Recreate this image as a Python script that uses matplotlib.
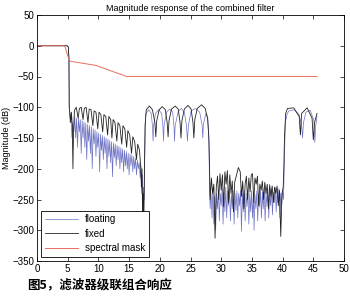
import matplotlib
matplotlib.use("Agg")
import matplotlib.pyplot as plt

# spectral mask
mask_x = [0, 4.5, 5.3, 9.6, 14.6, 45.6]
mask_y = [0, 0, -25, -32, -50, -50]

# fixed (black)
fixed_x = [0, 4.9, 5.1, 5.2, 5.25, 5.35, 5.5, 5.6, 5.75, 5.85, 5.95, 6.1, 6.4, 6.7, 6.9, 7.2, 7.5, 7.7,
           8.0, 8.3, 8.5, 8.8, 9.1, 9.3, 9.6, 9.9, 10.1, 10.4, 10.7, 10.9, 11.2, 11.5, 11.7, 12.0, 12.2,
           12.4, 12.7, 13.0, 13.2, 13.5, 13.8, 14.0, 14.3, 14.6, 14.8, 15.1, 15.4, 15.6, 15.9, 16.2, 16.4,
           16.7, 16.9, 17.0, 17.1, 17.2, 17.3, 17.4, 17.5,
           17.6, 17.8, 18.3, 18.8, 19.2, 19.35, 19.5, 19.9, 20.4, 20.9, 21.2, 21.35, 21.5, 21.9, 22.5,
           23.0, 23.3, 23.45, 23.6, 24.0, 24.6, 25.1, 25.4, 25.55, 25.7, 26.1, 26.8, 27.4, 27.8, 28.0,
           28.1, 28.2, 28.4, 28.6, 28.8, 29.0, 29.2, 29.4, 29.6, 29.8, 30.0, 30.2, 30.4, 30.6, 30.8,
           31.0, 31.2, 31.4, 31.6, 31.8, 32.0, 32.2, 32.5, 32.8, 33.1, 33.3, 33.5, 33.7, 33.9, 34.1,
           34.3, 34.5, 34.7, 34.9, 35.1, 35.3, 35.5, 35.7, 35.9, 36.1, 36.3, 36.5, 36.7, 36.9, 37.1,
           37.3, 37.5, 37.7, 37.9, 38.1, 38.3, 38.5, 38.7, 38.9, 39.1, 39.3, 39.5, 39.7, 39.9, 40.1,
           40.2, 40.3, 40.5, 40.8, 41.8, 42.7, 42.9, 43.1, 44.0, 44.8, 45.0, 45.2, 45.6]
fixed_y = [0, 0, -2, -20, -100, -110, -125, -108, -130, -200, -140, -105, -100, -118, -102, -100, -120, -102,
           -100, -125, -103, -104, -130, -106, -108, -135, -108, -112, -140, -112, -115, -145, -115, -120, -150,
           -120, -125, -155, -125, -130, -160, -130, -135, -165, -138, -145, -175, -148, -155, -185, -160,
           -170, -200, -230, -200, -280, -240, -290, -200,
           -130, -104, -98, -104, -125, -148, -122, -104, -99, -104, -125, -148, -122, -103, -98,
           -103, -125, -150, -122, -103, -97, -103, -125, -150, -120, -102, -96, -102, -120, -150,
           -200, -250, -215, -240, -225, -313, -230, -212, -250, -208, -235, -210, -262, -205, -225,
           -203, -255, -210, -240, -220, -270, -222, -210, -198, -205, -245, -220, -265, -225, -212,
           -250, -215, -238, -210, -208, -255, -215, -225, -212, -260, -225, -235, -220, -250, -222,
           -240, -225, -265, -226, -245, -228, -255, -230, -240, -228, -260, -235, -310, -240, -230,
           -200, -150, -110, -102, -101, -115, -145, -110, -101, -118, -153, -125, -110]

# floating (blue)
float_x = [0, 4.9, 5.1, 5.2, 5.25, 5.4, 5.5, 5.7, 5.8, 6.0, 6.15, 6.3, 6.45, 6.6, 6.75, 6.9, 7.05, 7.2,
           7.35, 7.5, 7.65, 7.8, 7.95, 8.1, 8.25, 8.4, 8.55, 8.7, 8.85, 9.0, 9.15, 9.3, 9.45, 9.6, 9.75,
           9.9, 10.05, 10.2, 10.35, 10.5, 10.65, 10.8, 10.95, 11.1, 11.25, 11.4, 11.55, 11.7, 11.85, 12.0,
           12.15, 12.3, 12.45, 12.6, 12.75, 12.9, 13.05, 13.2, 13.35, 13.5, 13.65, 13.8, 13.95, 14.1, 14.25,
           14.4, 14.55, 14.7, 14.85, 15.0, 15.15, 15.3, 15.45, 15.6, 15.75, 15.9, 16.05, 16.2, 16.35, 16.5,
           16.65, 16.8, 16.95, 17.05, 17.15, 17.25, 17.35, 17.45, 17.55,
           17.65, 17.75, 18.2, 18.6, 18.8, 18.9, 19.0, 19.3, 19.8, 20.3, 20.5, 20.6, 20.7, 21.1, 21.6,
           22.1, 22.3, 22.4, 22.5, 23.0, 23.5, 24.0, 24.35, 24.5, 24.65, 25.1, 25.8, 26.5, 26.9, 27.0,
           27.1, 27.5, 27.8, 28.0, 28.1,
           28.2, 28.35, 28.5, 28.65, 28.8, 28.95, 29.1, 29.25, 29.4, 29.55, 29.7, 29.85, 30.0, 30.15,
           30.3, 30.45, 30.6, 30.75, 30.9, 31.05, 31.2, 31.35, 31.5, 31.65, 31.8, 31.95, 32.1, 32.25,
           32.4, 32.55, 32.7, 32.85, 33.0, 33.15, 33.3, 33.45, 33.6, 33.75, 33.9, 34.05, 34.2, 34.35,
           34.5, 34.65, 34.8, 34.95, 35.1, 35.25, 35.35, 35.5, 35.65, 35.8, 35.95, 36.1, 36.25, 36.4,
           36.55, 36.7, 36.85, 37.0, 37.15, 37.3, 37.45, 37.6, 37.75, 37.9, 38.05, 38.2, 38.35, 38.5,
           38.65, 38.8, 38.95, 39.1, 39.25, 39.4, 39.55, 39.7, 39.85, 40.0, 40.15, 40.3, 40.45,
           40.7, 41.0, 41.9, 42.7, 43.1, 43.25, 43.4, 43.8, 44.5, 45.1, 45.25, 45.4, 45.6]
float_y = [0, 0, -2, -20, -100, -125, -110, -150, -125, -140, -115, -150, -118, -165, -118, -140, -120, -175,
           -122, -150, -124, -165, -126, -185, -128, -155, -130, -175, -132, -200, -135, -160, -137, -180, -140,
           -165, -142, -205, -144, -170, -146, -185, -148, -175, -150, -200, -152, -180, -154, -190,
           -156, -213, -158, -182, -160, -195, -162, -185, -164, -200, -166, -190, -168, -205, -170,
           -195, -172, -200, -175, -210, -176, -195, -178, -205, -180, -200, -183, -210, -186, -200,
           -190, -215, -195, -240, -210, -260, -230, -250, -180,
           -120, -110, -104, -110, -130, -155, -130, -110, -104, -110, -130, -155, -130, -108, -103,
           -108, -130, -155, -130, -107, -102, -108, -130, -155, -130, -106, -102, -108, -130, -150,
           -128, -110, -115, -160, -230,
           -265, -240, -280, -232, -290, -245, -300, -240, -265, -235, -285, -240, -260, -232,
           -290, -238, -270, -230, -280, -236, -260, -232, -285, -240, -265, -235, -290, -240,
           -268, -236, -280, -240, -260, -235, -302, -240, -270, -236, -285, -240, -262, -236,
           -290, -240, -270, -236, -280, -240, -300, -242, -265, -236, -285, -240, -262, -235,
           -280, -238, -265, -232, -285, -238, -262, -232, -280, -236, -260, -232, -275, -238,
           -255, -230, -270, -236, -255, -232, -280, -240, -260, -235, -250, -180, -125,
           -112, -106, -104, -112, -130, -150, -125, -108, -105, -122, -157, -130, -115]

title_text = "Magnitude response of the combined filter"
ylabel_text = "Magnitude (dB)"
caption_text = "图5，滤波器级联组合响应"
legend_labels = ["floating", "fixed", "spectral mask"]
xticks = [0, 5, 10, 15, 20, 25, 30, 35, 40, 45, 50]
yticks = [50, 0, -50, -100, -150, -200, -250, -300, -350]

plt.rcParams['font.family'] = ['Liberation Sans', 'DejaVu Sans']

fig = plt.figure(figsize=(3.5, 2.96), dpi=100)
ax = fig.add_axes([37 / 350, 35 / 296, 307 / 350, 246 / 296])

ax.plot(float_x, float_y, color='#6d72c4', lw=0.5, label=legend_labels[0])
ax.plot(fixed_x, fixed_y, color='#222222', lw=0.6, label=legend_labels[1])
ax.plot(mask_x, mask_y, color='#e8705f', lw=0.7, label=legend_labels[2])

ax.set_xlim(0, 50)
ax.set_ylim(-350, 50)
ax.set_xticks(xticks)
ax.set_yticks(yticks)
ax.tick_params(direction='in', top=True, right=True, length=3, width=0.5,
               labelsize=7, pad=2)
for s in ax.spines.values():
    s.set_linewidth(0.6)
ax.set_title(title_text, fontsize=6.5, pad=3)
ax.set_ylabel(ylabel_text, fontsize=6.5, labelpad=1)

leg = ax.legend(loc='lower left', fontsize=7, fancybox=False, framealpha=1,
                edgecolor='black', handlelength=3.4, borderaxespad=0.4,
                labelspacing=0.45, handletextpad=0.7)
leg.get_frame().set_linewidth(0.6)

fig.text(27 / 350, 1 - 285 / 296, caption_text, fontsize=9, fontweight='bold',
         family=['Noto Sans CJK SC', 'DejaVu Sans'], va='center', ha='left')

fig.savefig("out.png", dpi=100)
